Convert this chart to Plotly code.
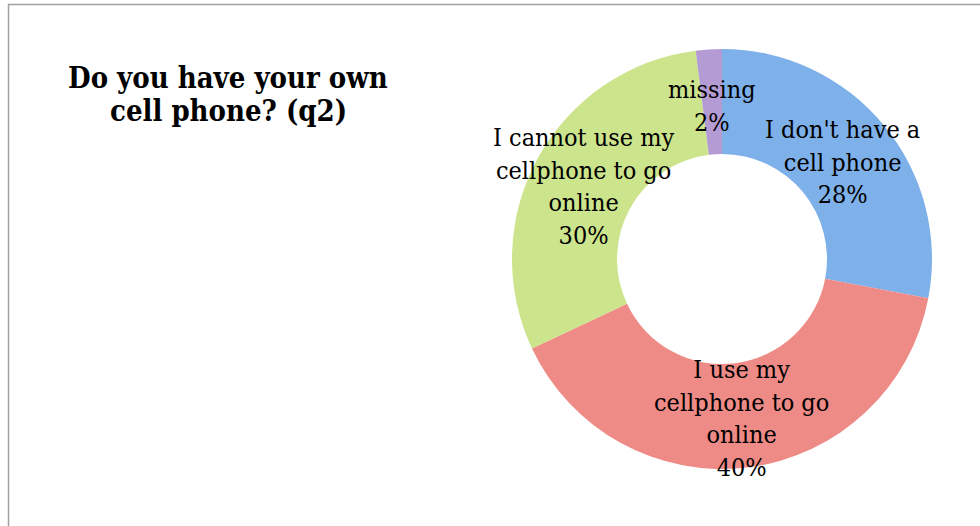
import math
import plotly.graph_objects as go

# Survey responses to q2 (percent of respondents)
categories = [
    "I don't have a cell phone",
    "I use my cellphone to go online",
    "I cannot use my cellphone to go online",
    "missing",
]
values = [28, 40, 30, 2]
label_lines = [
    ["I don't have a", "cell phone"],
    ["I use my", "cellphone to go", "online"],
    ["I cannot use my", "cellphone to go", "online"],
    ["missing"],
]
title_lines = ["Do you have your own", "cell phone? (q2)"]
colors = ["#7EB0EA", "#EE8B86", "#CCE48C", "#B49BD3"]

W, H = 980, 526
cx, cy, R = 722, 259, 210          # donut centre and outer radius in pixels
label_r = 157                      # labels sit on the middle of the ring
label_dy = 3.5                     # small downward nudge for the text block
font_family = "DejaVu Serif Condensed, DejaVu Serif, serif"

fig = go.Figure(
    go.Pie(
        labels=categories,
        values=values,
        hole=0.5,
        sort=False,
        direction="clockwise",
        rotation=0,
        marker=dict(colors=colors, line=dict(width=0)),
        textinfo="none",
        hoverinfo="label+percent",
        domain=dict(
            x=[(cx - R) / W, (cx + R) / W],
            y=[1 - (cy + R) / H, 1 - (cy - R) / H],
        ),
        showlegend=False,
    )
)

# Data labels placed at each slice's mid-angle
total = sum(values)
cum = 0
annotations = []
for v, lines in zip(values, label_lines):
    theta = 2 * math.pi * (cum + v / 2) / total
    cum += v
    px = cx + label_r * math.sin(theta)
    py = cy - label_r * math.cos(theta) + label_dy
    pct = round(100 * v / total)
    annotations.append(
        dict(
            x=px / W, y=1 - py / H, xref="paper", yref="paper",
            text="<br>".join(lines + [f"{pct}%"]),
            showarrow=False, xanchor="center", yanchor="middle",
            font=dict(family=font_family, size=25, color="#000000"),
            align="center",
        )
    )

# Chart title, one annotation per line for tighter spacing
for i, line in enumerate(title_lines):
    annotations.append(
        dict(
            x=228 / W, y=1 - (78 + 33 * i) / H, xref="paper", yref="paper",
            text=f"<b>{line}</b>",
            showarrow=False, xanchor="center", yanchor="middle",
            font=dict(family=font_family, size=29, color="#000000"),
        )
    )

fig.update_layout(
    width=W, height=H,
    margin=dict(l=0, r=0, t=0, b=0),
    paper_bgcolor="white",
    plot_bgcolor="white",
    annotations=annotations,
    shapes=[
        dict(
            type="rect", xref="paper", yref="paper",
            x0=8.5 / W, x1=1.05, y0=-0.05, y1=1 - 4.5 / H,
            line=dict(color="#A0A0A0", width=1.5),
        )
    ],
)

fig.write_html("out.html")
